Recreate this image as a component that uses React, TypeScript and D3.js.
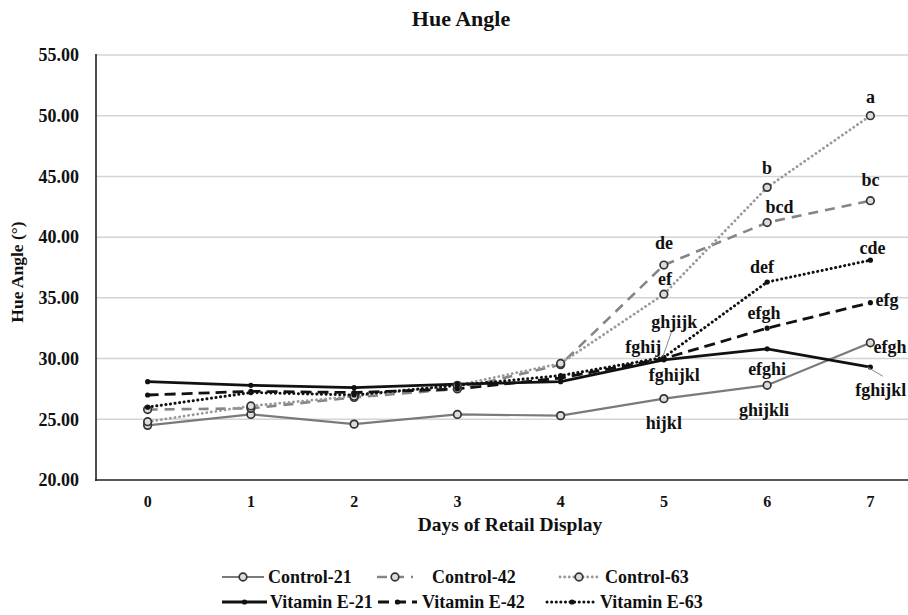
import React from 'react';
import * as d3 from 'd3';

const DAYS = [0, 1, 2, 3, 4, 5, 6, 7];
const Y_TICKS = [20, 25, 30, 35, 40, 45, 50, 55];

const CONTROL_21 = [24.5, 25.4, 24.6, 25.4, 25.3, 26.7, 27.8, 31.3];
const CONTROL_42 = [25.8, 25.9, 26.8, 27.5, 29.5, 37.7, 41.2, 43.0];
const CONTROL_63 = [24.8, 26.1, 26.9, 27.8, 29.6, 35.3, 44.1, 50.0];
const VITE_21 = [28.1, 27.8, 27.6, 27.9, 28.1, 29.9, 30.8, 29.3];
const VITE_42 = [27.0, 27.3, 27.2, 27.5, 28.4, 30.0, 32.5, 34.6];
const VITE_63 = [26.0, 27.2, 27.0, 27.8, 28.6, 30.1, 36.3, 38.1];

// significance letters: [text, day, value, anchor]
const LETTERS: [string, number, number, string][] = [
  ['a', 7, 51.5, 'middle'],
  ['b', 6, 45.7, 'middle'],
  ['bc', 7, 44.7, 'middle'],
  ['bcd', 6.12, 42.5, 'middle'],
  ['de', 5, 39.5, 'middle'],
  ['cde', 7.02, 39.1, 'middle'],
  ['ef', 5.01, 36.5, 'middle'],
  ['def', 5.95, 37.5, 'middle'],
  ['ghjijk', 5.1, 33.0, 'middle'],
  ['fghij', 4.8, 30.9, 'middle'],
  ['fghijkl', 5.1, 28.6, 'middle'],
  ['hijkl', 5, 24.7, 'middle'],
  ['efgh', 5.97, 33.75, 'middle'],
  ['efghi', 6.0, 29.15, 'middle'],
  ['ghijkli', 5.97, 25.75, 'middle'],
  ['efg', 7.05, 34.8, 'start'],
  ['efgh', 7.03, 30.95, 'start'],
  ['fghijkl', 7.1, 27.4, 'middle'],
];

// leader lines [day1, v1, day2, v2]
const LEADERS: [number, number, number, number][] = [
  [5.08, 32.35, 4.99, 30.15],
  [6.97, 29.3, 7.12, 28.55],
];

const SERIES = [
  { name: 'Control-21', values: CONTROL_21, color: '#7a7a7a', dash: '', width: 2.2, marker: 'ring' },
  { name: 'Control-42', values: CONTROL_42, color: '#858585', dash: '10,7', width: 2.6, marker: 'ring' },
  { name: 'Control-63', values: CONTROL_63, color: '#9a9a9a', dash: '0.1,4.5', width: 2.8, marker: 'ring' },
  { name: 'Vitamin E-21', values: VITE_21, color: '#111', dash: '', width: 2.8, marker: 'dot' },
  { name: 'Vitamin E-42', values: VITE_42, color: '#111', dash: '11,6', width: 2.8, marker: 'dot' },
  { name: 'Vitamin E-63', values: VITE_63, color: '#111', dash: '0.1,4.5', width: 3, marker: 'dot' },
];

const W = 908;
const H = 615;
const FONT = '"Liberation Serif", "Times New Roman", serif';

// legend slots: [lineStart, lineEnd, textX, row]
const LEGEND_POS = [
  [222, 264, 268, 0],
  [377, 413, 432, 0],
  [560, 598, 605, 0],
  [222, 267, 270, 1],
  [378, 417, 422, 1],
  [547, 597, 600, 1],
];

const Marker = ({ kind, x, y }: { kind: string; x: number; y: number }) =>
  kind === 'ring' ? (
    <circle cx={x} cy={y} r={3.8} fill="#ddd" stroke="#333" strokeWidth={1.7} />
  ) : (
    <circle cx={x} cy={y} r={2.6} fill="#111" />
  );

export default function App() {
  const x = d3.scaleLinear().domain([-0.5, 7.5]).range([96, 922]);
  const y = d3.scaleLinear().domain([20, 55]).range([480, 55]);
  const line = d3.line<number>().x((_, i) => x(DAYS[i])).y(d => y(d));

  return (
    <svg width={W} height={H} style={{ position: 'absolute', left: 0, top: 0, background: '#fff' }}
      fontFamily={FONT} fontWeight="bold">
      <rect width={W} height={H} fill="#fff" />
      <text x={461} y={26} textAnchor="middle" fontSize={22} fill="#111">Hue Angle</text>

      {/* grid */}
      {Y_TICKS.filter(t => t > 20).map(t => (
        <line key={t} x1={96} x2={W} y1={y(t)} y2={y(t)} stroke="#d4d4d4" strokeWidth={1.5} />
      ))}
      {Y_TICKS.map(t => (
        <text key={t} x={79} y={y(t)} dy="0.35em" textAnchor="end" fontSize={18} fill="#111">
          {t.toFixed(2)}
        </text>
      ))}
      {DAYS.map(d => (
        <text key={d} x={x(d)} y={507} textAnchor="middle" fontSize={16} fill="#111">{d}</text>
      ))}
      <text x={510} y={531} textAnchor="middle" fontSize={19.5} fill="#111">Days of Retail Display</text>
      <text transform={`translate(23,272) rotate(-90)`} textAnchor="middle" fontSize={17.5} fill="#111">
        Hue Angle (°)
      </text>

      {/* series */}
      {SERIES.map(s => (
        <path key={s.name} d={line(s.values) || ''} fill="none" stroke={s.color} strokeWidth={s.width}
          strokeDasharray={s.dash || undefined} strokeLinecap={s.dash.startsWith('0.1') ? 'round' : 'butt'} />
      ))}
      {SERIES.map(s => s.values.map((v, i) => (
        <Marker key={s.name + i} kind={s.marker} x={x(DAYS[i])} y={y(v)} />
      )))}

      {/* axes */}
      <line x1={96} x2={96} y1={54} y2={481} stroke="#222" strokeWidth={1.6} />
      <line x1={95} x2={W} y1={480} y2={480} stroke="#222" strokeWidth={1.6} />

      {/* letters */}
      {LEADERS.map((l, i) => (
        <line key={i} x1={x(l[0])} y1={y(l[1])} x2={x(l[2])} y2={y(l[3])} stroke="#888" strokeWidth={1} />
      ))}
      {LETTERS.map((l, i) => (
        <text key={i} x={x(l[1])} y={y(l[2])} dy="0.32em" textAnchor={l[3]} fontSize={18} fill="#111">
          {l[0]}
        </text>
      ))}

      {/* legend */}
      {SERIES.map((s, i) => {
        const [x1, x2, tx, row] = LEGEND_POS[i];
        const ly = row === 0 ? 577 : 602;
        return (
          <g key={s.name}>
            <line x1={x1} x2={x2} y1={ly} y2={ly} stroke={s.color} strokeWidth={s.width}
              strokeDasharray={s.dash || undefined} strokeLinecap={s.dash.startsWith('0.1') ? 'round' : 'butt'} />
            <Marker kind={s.marker} x={(x1 + x2) / 2} y={ly} />
            <text x={tx} y={ly} dy="0.35em" fontSize={18} fill="#111">{s.name}</text>
          </g>
        );
      })}
    </svg>
  );
}
